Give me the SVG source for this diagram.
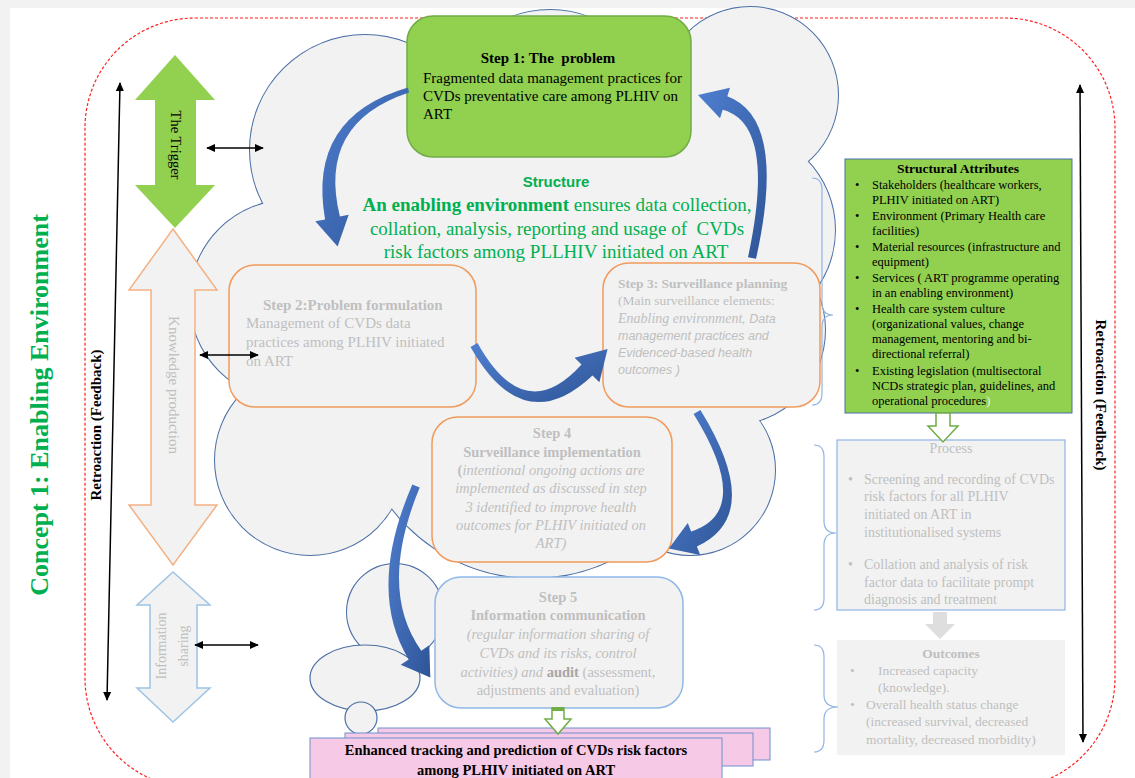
<svg xmlns="http://www.w3.org/2000/svg" width="1135" height="778" viewBox="0 0 1135 778">
<defs>
<marker id="ah" viewBox="0 0 10 10" refX="9" refY="5" markerWidth="6" markerHeight="6" orient="auto-start-reverse"><path d="M0,0.5 L10,5 L0,9.5 z" fill="#000"/></marker>
<linearGradient id="blueg" x1="0" y1="0" x2="1" y2="1"><stop offset="0" stop-color="#4f7fd0"/><stop offset="1" stop-color="#2f5597"/></linearGradient>
</defs>
<style>
.serif{font-family:"Liberation Serif","Times New Roman",serif}
.sans{font-family:"Liberation Sans",Arial,sans-serif}
.b{font-weight:bold}
.i{font-style:italic}
.gray{fill:#bfbfbf}
.blk{fill:#000}
.grn{fill:#00b050}
.mid{text-anchor:middle}
.cl{fill:#f2f2f2}
.ob{fill:#f2f2f2;stroke:#f19a5b;stroke-width:1.5}
.brace{fill:none;stroke:#8fb4e3;stroke-width:1.2}
.bl{stroke:#000;stroke-width:1.5;fill:none;marker-start:url(#ah);marker-end:url(#ah)}
.barrow{fill:url(#blueg)}
</style>
<rect width="1135" height="778" fill="#fff"/>
<rect x="0" y="0" width="1135" height="8" fill="#f2f2f2"/>
<rect x="0" y="0" width="10" height="778" fill="#f2f2f2"/>

<g id="frame">
<rect x="85" y="18" width="1030" height="770" rx="110" ry="110" fill="none" stroke="#ff2020" stroke-width="1.2" stroke-dasharray="3,2"/>
</g>

<g id="title">
<text class="serif b grn" font-size="26" transform="translate(48,405) rotate(-90)" text-anchor="middle">Concept 1: Enabling Environment</text>
</g>

<g id="cloud">
<g fill="#f2f2f2" stroke="#4a6fa5" stroke-width="2">
<circle cx="365" cy="150" r="115"/><circle cx="550" cy="120" r="110"/><circle cx="750" cy="95" r="88"/><circle cx="735" cy="230" r="100"/><circle cx="730" cy="330" r="95"/><circle cx="690" cy="470" r="85"/><circle cx="533" cy="400" r="178"/><circle cx="290" cy="300" r="100"/><circle cx="310" cy="460" r="95"/><circle cx="395" cy="612" r="48"/><circle cx="540" cy="320" r="230"/>
</g>
<g class="cl">
<circle cx="365" cy="150" r="115"/><circle cx="550" cy="120" r="110"/><circle cx="750" cy="95" r="88"/><circle cx="735" cy="230" r="100"/><circle cx="730" cy="330" r="95"/><circle cx="690" cy="470" r="85"/><circle cx="533" cy="400" r="178"/><circle cx="290" cy="300" r="100"/><circle cx="310" cy="460" r="95"/><circle cx="395" cy="612" r="48"/><circle cx="540" cy="320" r="230"/>
</g>
<ellipse cx="365" cy="678" rx="55" ry="33" fill="#f2f2f2" stroke="#4a6fa5" stroke-width="1.2"/>
<circle cx="361" cy="718" r="16" fill="#f2f2f2" stroke="#4a6fa5" stroke-width="1.2"/>
</g>

<g id="structure-text">
<text class="sans b grn mid" font-size="15" x="556" y="187">Structure</text>
<text class="serif grn mid" font-size="19" x="557" y="211"><tspan class="b">An enabling environment</tspan> ensures data collection,</text>
<text class="serif grn mid" font-size="19" x="557" y="235">collation, analysis, reporting and usage of&#160; CVDs</text>
<text class="serif grn mid" font-size="19" x="556" y="258">risk factors among PLLHIV initiated on ART</text>
</g>

<g id="node-trigger">
<path d="M175,55 L215,100 L196,100 L196,185 L215,185 L175,228 L135,185 L155,185 L155,100 L135,100 Z" fill="#92d050"/>
<text class="serif blk mid" font-size="14.5" transform="translate(171,145) rotate(90)">The Trigger</text>
</g>
<g id="node-knowledge">
<path d="M173,229 L217,290 L195,290 L195,505 L217,505 L173,565 L129,505 L151,505 L151,290 L129,290 Z" fill="#f2f2f2" stroke="#f4b183" stroke-width="1.5"/>
<text class="serif gray mid" font-size="15" transform="translate(169,385) rotate(90)">Knowledge production</text>
</g>
<g id="node-infosharing">
<path d="M173,572 L210,605 L197,605 L197,688 L210,688 L173,722 L137,688 L150,688 L150,605 L137,605 Z" fill="#f2f2f2" stroke="#9dc3e6" stroke-width="1.5"/>
<text class="serif gray mid" font-size="14" transform="translate(166,646) rotate(-90)">Information</text>
<text class="serif gray mid" font-size="14" transform="translate(188,646) rotate(-90)">sharing</text>
</g>

<g id="node-step1">
<rect x="407" y="16" width="284" height="141" rx="26" fill="#92d050" stroke="#70ad47" stroke-width="1.5"/>
<text class="serif b blk mid" font-size="15" x="548" y="63">Step 1: The&#160; problem</text>
<text class="serif blk" font-size="15" x="423" y="83">Fragmented data management practices for</text>
<text class="serif blk" font-size="15" x="423" y="101">CVDs preventative care among PLHIV on</text>
<text class="serif blk" font-size="15" x="423" y="119">ART</text>
</g>

<g id="node-step2">
<rect x="229" y="265" width="247" height="142" rx="26" class="ob"/>
<text class="serif b gray" font-size="15" x="263" y="310">Step 2:Problem formulation</text>
<text class="serif gray" font-size="15" x="246" y="328">Management of CVDs data</text>
<text class="serif gray" font-size="15" x="246" y="347">practices among PLHIV initiated</text>
<text class="serif gray" font-size="15" x="246" y="366">on ART</text>
</g>

<g id="node-step3">
<rect x="603" y="263" width="217" height="144" rx="26" class="ob"/>
<text class="serif b gray" font-size="13.5" x="618" y="288">Step 3: Surveillance planning</text>
<text class="serif gray" font-size="13.5" x="618" y="305">(Main surveillance elements:</text>
<text class="gray" font-size="13" x="618" y="323"><tspan class="serif i" font-size="14">Enabling environment</tspan><tspan class="sans i" font-size="12.5">, Data</tspan></text>
<text class="sans i gray" font-size="12.5" x="618" y="340">management practices and</text>
<text class="sans i gray" font-size="12.5" x="618" y="357">Evidenced-based health</text>
<text class="sans i gray" font-size="12.5" x="618" y="374">outcomes )</text>
</g>

<g id="node-step4">
<rect x="432" y="417" width="240" height="145" rx="26" class="ob"/>
<text class="serif b gray mid" font-size="14.5" x="552" y="438">Step 4</text>
<text class="serif b gray mid" font-size="14.5" x="552" y="457">Surveillance implementation</text>
<text class="serif gray mid" font-size="14.5" x="551" y="475"><tspan class="b">(</tspan><tspan class="i">intentional ongoing actions are</tspan></text>
<text class="serif i gray mid" font-size="14.5" x="551" y="493">implemented as discussed in step</text>
<text class="serif i gray mid" font-size="14.5" x="551" y="512">3 identified to improve health</text>
<text class="serif i gray mid" font-size="14.5" x="551" y="530">outcomes for PLHIV initiated on</text>
<text class="serif i gray mid" font-size="14.5" x="551" y="548">ART)</text>
</g>

<g id="node-step5">
<rect x="435" y="577" width="248" height="131" rx="26" fill="#f2f2f2" stroke="#8fb8e6" stroke-width="1.5"/>
<text class="serif b gray mid" font-size="14.5" x="558" y="602">Step 5</text>
<text class="serif b gray mid" font-size="14.5" x="558" y="620">Information communication</text>
<text class="serif i gray mid" font-size="14.5" x="558" y="639">(regular information sharing of</text>
<text class="serif i gray mid" font-size="14.5" x="558" y="658">CVDs and its risks, control</text>
<text class="serif gray mid" font-size="14.5" x="558" y="677"><tspan class="i">activities) and </tspan><tspan class="b" fill="#a6a6a6">audit</tspan> (assessment,</text>
<text class="serif gray mid" font-size="14.5" x="558" y="695">adjustments and evaluation)</text>
</g>

<g id="node-outcome-final">
<rect x="378" y="728" width="392" height="32" fill="#f6c9e6" stroke="#6f8fd0" stroke-width="1"/>
<rect x="345" y="733" width="408" height="33" fill="#f6c9e6" stroke="#6f8fd0" stroke-width="1"/>
<rect x="310" y="738" width="412" height="48" fill="#f6c9e6" stroke="#6f8fd0" stroke-width="1"/>
<text class="serif b blk mid" font-size="14.5" x="516" y="755">Enhanced tracking and prediction of CVDs risk factors</text>
<text class="serif b blk mid" font-size="14.5" x="516" y="775">among PLHIV initiated on ART</text>
</g>

<g id="node-structural">
<rect x="845" y="159" width="227" height="254" fill="#92d050" stroke="#4a6fa5" stroke-width="1"/>
<g class="serif blk" font-size="12.5">
<text class="b mid" font-size="13.5" x="958" y="173">Structural Attributes</text>
<text x="855" y="189">•</text><text x="872" y="189">Stakeholders (healthcare workers,</text>
<text x="872" y="204">PLHIV initiated on ART)</text>
<text x="855" y="220">•</text><text x="872" y="220">Environment (Primary Health care</text>
<text x="872" y="235">facilities)</text>
<text x="855" y="251">•</text><text x="872" y="251">Material resources (infrastructure and</text>
<text x="872" y="266">equipment)</text>
<text x="855" y="282">•</text><text x="872" y="282">Services ( ART programme operating</text>
<text x="872" y="297">in an enabling environment)</text>
<text x="855" y="313">•</text><text x="872" y="313">Health care system culture</text>
<text x="872" y="328">(organizational values, change</text>
<text x="872" y="343">management, mentoring and bi-</text>
<text x="872" y="358">directional referral)</text>
<text x="855" y="375">•</text><text x="872" y="375">Existing legislation (multisectoral</text>
<text x="872" y="390">NCDs strategic plan, guidelines, and</text>
<text x="872" y="405">operational procedures<tspan fill="#e8f5d8">)</tspan></text>
</g>
</g>

<g id="node-process">
<rect x="837" y="440" width="228" height="170" fill="#f2f2f2" stroke="#8fb4e3" stroke-width="1.2"/>
<g class="serif gray" font-size="14">
<text class="mid" x="951" y="453">Process</text>
<text x="848" y="484">•</text><text x="864" y="484">Screening and recording of CVDs</text>
<text x="864" y="501">risk factors for all PLHIV</text>
<text x="864" y="519">initiated on ART in</text>
<text x="864" y="537">institutionalised systems</text>
<text x="848" y="569">•</text><text x="864" y="569">Collation and analysis of risk</text>
<text x="864" y="587">factor data to facilitate prompt</text>
<text x="864" y="604">diagnosis and treatment</text>
</g>
</g>

<g id="node-outcomes">
<rect x="837" y="640" width="228" height="115" fill="#f2f2f2"/>
<g class="serif gray" font-size="13.5">
<text class="b mid" x="951" y="658">Outcomes</text>
<text x="850" y="675">•</text><text x="878" y="675">Increased capacity</text>
<text x="878" y="692">(knowledge).</text>
<text x="850" y="709">•</text><text x="866" y="709">Overall health status change</text>
<text x="866" y="726">(increased survival, decreased</text>
<text x="866" y="744">mortality, decreased morbidity)</text>
</g>
</g>

<g id="connectors">
<path class="barrow" d="M408,87.5 Q307,117 325.1,219.4 L315.3,221.2 L337.6,246.4 L348.7,214.8 L339.9,216.6 Q316.9,123 409,92.5 Z"/>
<path class="barrow" d="M756,258.8 Q787.3,118.5 727.3,96.3 L730,87.7 L698,95 L720,118.3 L722.7,109.7 Q776.7,124 748,257.2 Z"/>
<path class="barrow" d="M470.5,347 Q523.3,440.4 592.5,375.4 L599.4,382.2 L607.6,349.1 L574.6,357.8 L581.5,364.6 Q524.7,427.6 477.5,343 Z"/>
<path class="barrow" d="M693.6,414.1 Q753.8,511.3 691.1,531.5 L687.8,523.1 L668.8,548.6 L700.2,554.9 L696.9,546.5 Q765.2,515 700.4,409.9 Z"/>
<path class="barrow" d="M412.3,484.4 Q366.5,590.5 408.7,659.4 L400.7,664.8 L430.3,677.6 L429.3,645.2 L421.3,650.7 Q377.5,589.5 419.7,487.6 Z"/>
<line class="bl" x1="120" y1="83" x2="107" y2="700"/>
<line class="bl" x1="1080" y1="85" x2="1083" y2="742"/>
<line class="bl" x1="207" y1="148" x2="263" y2="148"/>
<line class="bl" x1="200" y1="355" x2="258" y2="355"/>
<line class="bl" x1="195" y1="645" x2="258" y2="645"/>
<path d="M936,413 L950,413 L950,426 L958,426 L943,442 L928,426 L936,426 Z" fill="#fff" stroke="#70ad47" stroke-width="1.5"/>
<path d="M933,612 L947,612 L947,624 L955,624 L940,639 L925,624 L933,624 Z" fill="#dedede"/>
<path d="M552,708 L564,708 L564,719 L571,719 L558,734 L545,719 L552,719 Z" fill="#fff" stroke="#70ad47" stroke-width="1.5"/>
<rect x="552" y="707" width="12" height="4" fill="#70ad47"/>
<path class="brace" d="M812,178 Q822,178 822,190 L822,303 Q822,315 833,315 Q822,315 822,327 L822,393 Q822,405 812,405"/>
<path class="brace" d="M814,445 Q824,445 824,457 L824,521 Q824,533 836,533 Q824,533 824,545 L824,598 Q824,610 814,610"/>
<path class="brace" d="M814,645 Q824,645 824,657 L824,695 Q824,707 838,707 Q824,707 824,719 L824,740 Q824,752 814,752"/>
</g>

<g id="feedback-labels">
<text class="serif b blk mid" font-size="15" transform="translate(101,425) rotate(-90)">Retroaction (Feedback)</text>
<text class="serif b blk mid" font-size="15" transform="translate(1096,395) rotate(90)">Retroaction (Feedback)</text>
</g>
</svg>
